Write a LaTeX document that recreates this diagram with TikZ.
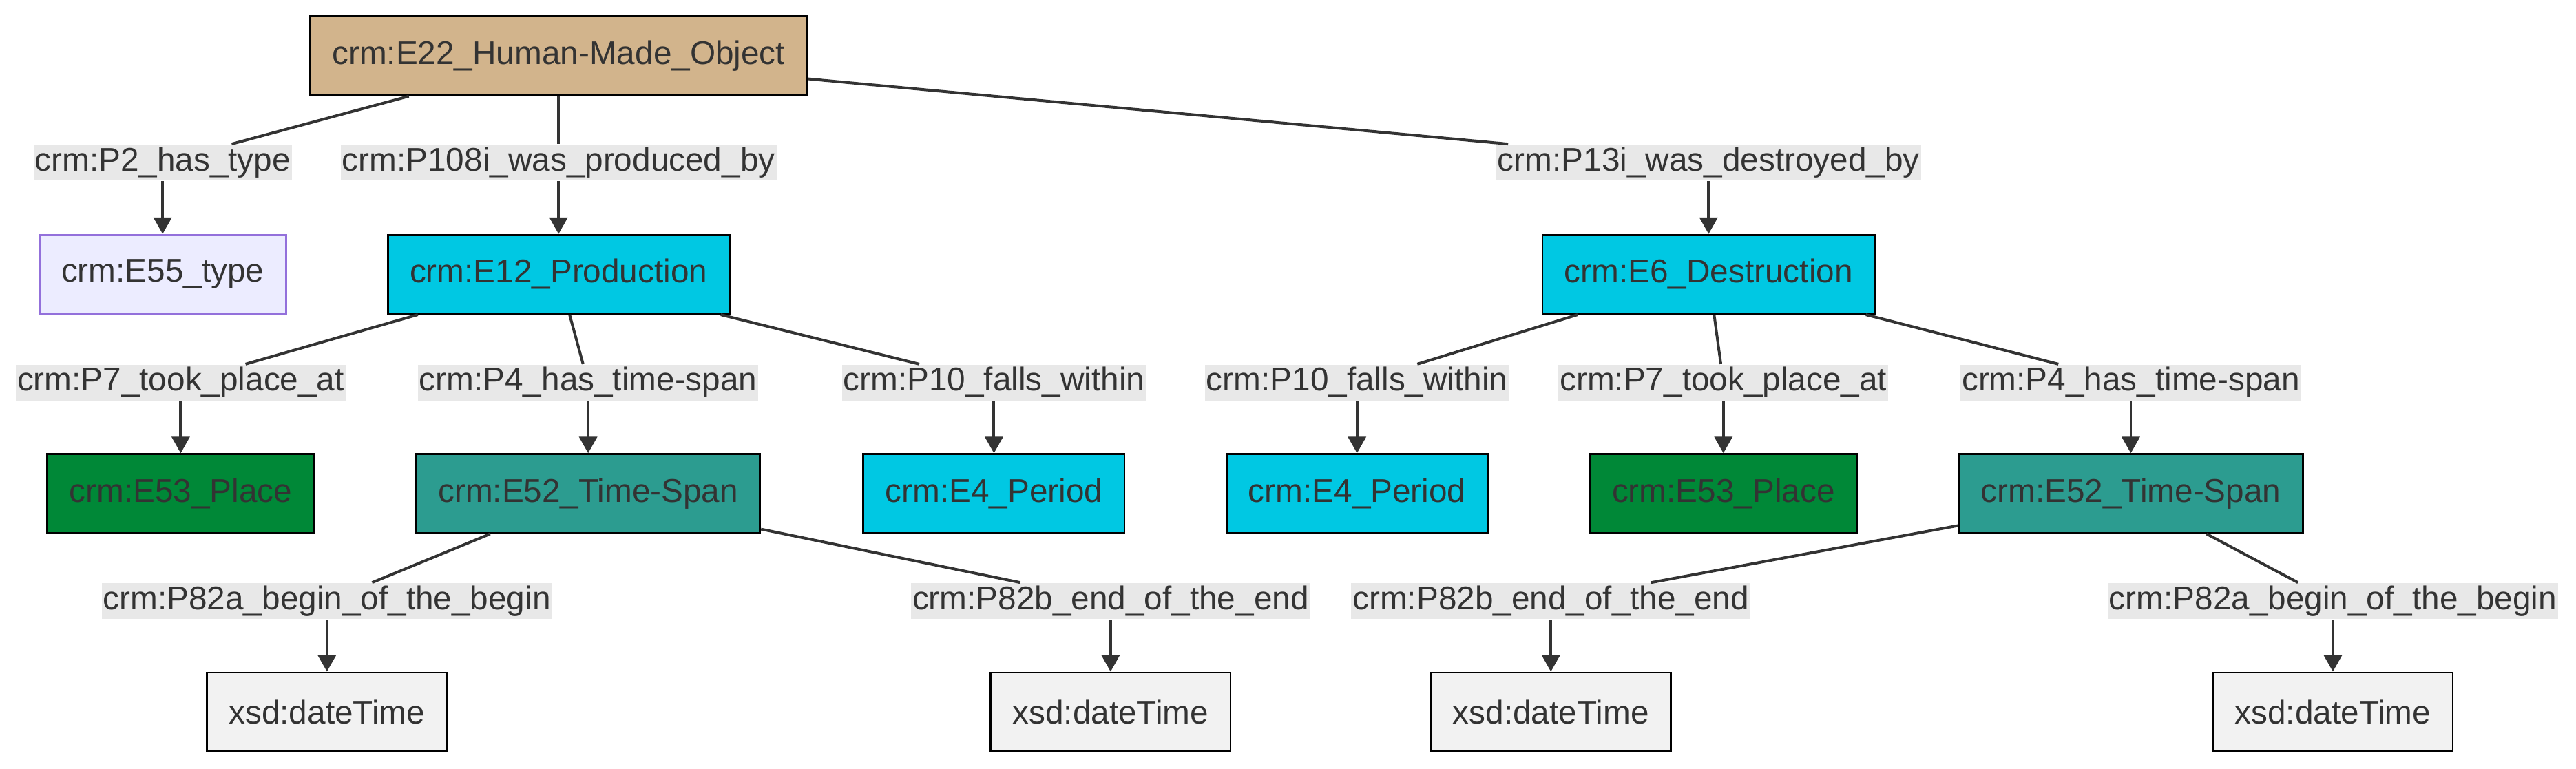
\documentclass[tikz,border=0pt]{standalone}
\usepackage{fontspec}
\setmainfont{Liberation Sans}
\usetikzlibrary{arrows.meta}
\definecolor{txt}{HTML}{333333}
\definecolor{lblbg}{HTML}{E8E8E8}
\definecolor{objfill}{HTML}{D2B48C}
\definecolor{typefill}{HTML}{ECECFF}
\definecolor{typedraw}{HTML}{9370DB}
\definecolor{eventfill}{HTML}{00C8E3}
\definecolor{placefill}{HTML}{008837}
\definecolor{spanfill}{HTML}{2C9C90}
\definecolor{litfill}{HTML}{F2F2F2}
\begin{document}
\begin{tikzpicture}[x=0.6pt, y=-0.6pt,
    every node/.style={font=\fontsize{12}{14}\selectfont, text=txt},
    cls/.style={draw=black, line width=0.7pt, minimum height=28.8pt, inner xsep=8pt},
    lbl/.style={fill=lblbg, inner xsep=0.5pt, inner ysep=0.6pt, text height=9pt, text depth=3pt},
    edge/.style={draw=txt, line width=1pt},
    arr/.style={edge, -{Triangle[length=6pt,width=6.5pt]}}]
  \useasboundingbox (0,0) rectangle (1568,468);

  % Object
  \node[cls, fill=objfill] (obj) at (340,34) {crm:E22\_Human-Made\_Object};

  % Row 1
  \node[lbl] (ptype) at (99,99) {crm:P2\_has\_type};
  \node[lbl] (pprod) at (340,99) {crm:P108i\_was\_produced\_by};
  \node[lbl] (pdest) at (1040,99) {crm:P13i\_was\_destroyed\_by};
  \node[cls, fill=typefill, draw=typedraw] (type) at (99,167) {crm:E55\_type};
  \node[cls, fill=eventfill] (prod) at (340,167) {crm:E12\_Production};
  \node[cls, fill=eventfill] (dest) at (1040,167) {crm:E6\_Destruction};
  \draw[edge] (obj) -- (ptype);
  \draw[edge] (obj) -- (pprod);
  \draw[edge] (obj) -- (pdest);
  \draw[arr] (ptype) -- (type);
  \draw[arr] (pprod) -- (prod);
  \draw[arr] (pdest) -- (dest);

  % Row 2 (production)
  \node[lbl] (pplace1) at (110,233) {crm:P7\_took\_place\_at};
  \node[lbl] (pspan1) at (358,233) {crm:P4\_has\_time-span};
  \node[lbl] (pperiod1) at (605,233) {crm:P10\_falls\_within};
  \node[cls, fill=placefill] (place1) at (110,300.5) {crm:E53\_Place};
  \node[cls, fill=spanfill] (span1) at (358,300.5) {crm:E52\_Time-Span};
  \node[cls, fill=eventfill] (period1) at (605,300.5) {crm:E4\_Period};
  \draw[edge] (prod) -- (pplace1);
  \draw[edge] (prod) -- (pspan1);
  \draw[edge] (prod) -- (pperiod1);
  \draw[arr] (pplace1) -- (place1);
  \draw[arr] (pspan1) -- (span1);
  \draw[arr] (pperiod1) -- (period1);

  % Row 2 (destruction)
  \node[lbl] (pperiod2) at (826,233) {crm:P10\_falls\_within};
  \node[lbl] (pplace2) at (1049,233) {crm:P7\_took\_place\_at};
  \node[lbl] (pspan2) at (1297,233) {crm:P4\_has\_time-span};
  \node[cls, fill=eventfill] (period2) at (826,300.5) {crm:E4\_Period};
  \node[cls, fill=placefill] (place2) at (1049,300.5) {crm:E53\_Place};
  \node[cls, fill=spanfill] (span2) at (1297,300.5) {crm:E52\_Time-Span};
  \draw[edge] (dest) -- (pperiod2);
  \draw[edge] (dest) -- (pplace2);
  \draw[edge] (dest) -- (pspan2);
  \draw[arr] (pperiod2) -- (period2);
  \draw[arr] (pplace2) -- (place2);
  \draw[arr] (pspan2) -- (span2);

  % Row 3 (time-spans)
  \node[lbl] (pbegin1) at (199,366) {crm:P82a\_begin\_of\_the\_begin};
  \node[lbl] (pend1) at (676,366) {crm:P82b\_end\_of\_the\_end};
  \node[lbl] (pend2) at (944,366) {crm:P82b\_end\_of\_the\_end};
  \node[lbl] (pbegin2) at (1420,366) {crm:P82a\_begin\_of\_the\_begin};
  \node[cls, fill=litfill] (begin1) at (199,433.5) {xsd:dateTime};
  \node[cls, fill=litfill] (end1) at (676,433.5) {xsd:dateTime};
  \node[cls, fill=litfill] (end2) at (944,433.5) {xsd:dateTime};
  \node[cls, fill=litfill] (begin2) at (1420,433.5) {xsd:dateTime};
  \draw[edge] (span1) -- (pbegin1);
  \draw[edge] (span1) -- (pend1);
  \draw[edge] (span2) -- (pend2);
  \draw[edge] (span2) -- (pbegin2);
  \draw[arr] (pbegin1) -- (begin1);
  \draw[arr] (pend1) -- (end1);
  \draw[arr] (pend2) -- (end2);
  \draw[arr] (pbegin2) -- (begin2);
\end{tikzpicture}
\end{document}
